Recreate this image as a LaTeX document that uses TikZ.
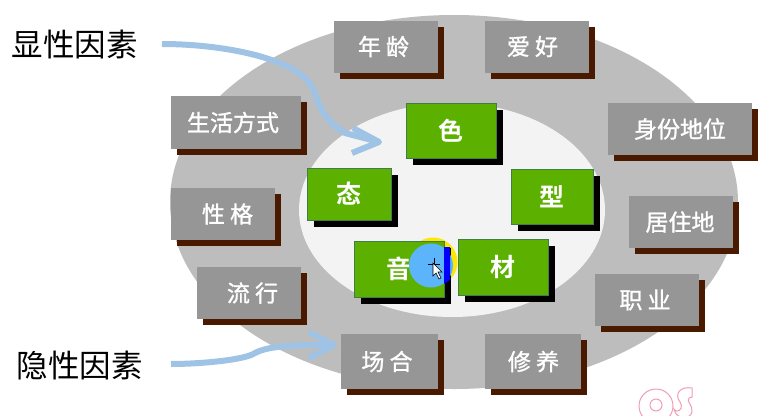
\documentclass[tikz,border=0pt]{standalone}
\usepackage{fontspec}
\setmainfont{Noto Sans CJK SC}[BoldFont={Noto Sans CJK SC Bold}]
\newfontfamily\factorfont{Noto Sans CJK SC}[FakeBold=1.2]
\usetikzlibrary{shadows}
\definecolor{outerc}{HTML}{BDBDBD}
\definecolor{innerc}{HTML}{F3F3F3}
\definecolor{grayc}{HTML}{969696}
\definecolor{brownc}{HTML}{4A1A00}
\definecolor{greenc}{HTML}{5CB100}
\definecolor{arrowc}{HTML}{9FC3E4}
\definecolor{spotblue}{HTML}{5CB4FA}
\definecolor{spotyellow}{HTML}{FFE800}
\definecolor{markpink}{HTML}{F29DB5}
\tikzset{
  factorbox/.style={fill=grayc,text=white,inner sep=0pt,font=\factorfont\fontsize{23}{23}\selectfont,
    general shadow={fill=brownc,shadow xshift=6pt,shadow yshift=-6pt}},
  corebox/.style={fill=greenc,draw=greenc!70!blue,line width=.5pt,text=white,inner sep=0pt,font=\fontsize{25}{25}\selectfont\bfseries,
    general shadow={fill=black,shadow xshift=7pt,shadow yshift=-7pt}},
  sidelabel/.style={inner sep=0pt,text=black,font=\fontsize{31.5}{31.5}\selectfont},
  pointer/.style={draw=arrowc,line width=6pt,line cap=butt,line join=round},
}
\begin{document}
\begin{tikzpicture}[x=1pt,y=-1pt]
\useasboundingbox (0,0) rectangle (767,415);
\clip (0,0) rectangle (767,415);
\fill[white] (0,0) rectangle (767,415);
% ellipses
\fill[outerc] (454,202) ellipse [x radius=284,y radius=187];
\fill[innerc] (452,210) ellipse [x radius=153,y radius=107];
% arrows
\coordinate (a1) at (162,44);
\coordinate (a1tip) at (379,142);
\coordinate (a1u) at (353,128);
\coordinate (a1d) at (352,153);
\coordinate (a2) at (171,364);
\coordinate (a2tip) at (334,345);
\coordinate (a2u) at (309,332);
\coordinate (a2d) at (309,358);
\draw[pointer] (a1) .. controls (215,44) and (280,55) .. (305,78)
  .. controls (322,95) and (312,112) .. (345,133) -- (a1tip);
\draw[pointer] (a1u) -- (a1tip) -- (a1d);
\draw[pointer] (a2) .. controls (200,364) and (245,360) .. (255,353)
  .. controls (270,345) and (300,345) .. (a2tip);
\draw[pointer] (a2u) -- (a2tip) -- (a2d);
% side labels
\node[sidelabel] (visible) at (74.5,44) {显性因素};
\node[sidelabel] (hidden) at (79.5,366) {隐性因素};
% outer factors
\node[factorbox,minimum width=104pt,minimum height=52pt] (age) at (386,46.5) {\kern-5pt 年 龄};
\node[factorbox,minimum width=104pt,minimum height=52pt] (hobby) at (537,46.5) {\kern-9pt 爱 好};
\node[factorbox,minimum width=130pt,minimum height=53pt] (life) at (236,122.5) {\kern-6pt 生活方式};
\node[factorbox,minimum width=144pt,minimum height=52pt] (status) at (680,129) {身份地位};
\node[factorbox,minimum width=104pt,minimum height=52pt] (nature) at (223,214) {\kern9pt 性 格};
\node[factorbox,minimum width=104pt,minimum height=52pt] (home) at (681,222) {\kern-2pt 居住地};
\node[factorbox,minimum width=104pt,minimum height=52pt] (trend) at (249,293) {\kern7pt 流 行};
\node[factorbox,minimum width=104pt,minimum height=52pt] (job) at (647,300) {\kern-4pt 职 业};
\node[factorbox,minimum width=97pt,minimum height=55pt] (place) at (389.5,361.5) {\kern-5pt 场 合};
\node[factorbox,minimum width=96pt,minimum height=55pt] (culture) at (533,361.5) {\kern1pt 修 养};
% yellow spot lies behind the box
\fill[spotyellow] (433,262) circle [radius=24.5];
% core factors
\node[corebox,minimum width=90pt,minimum height=55pt] (colour) at (451,130.5) {色};
\node[corebox,minimum width=84pt,minimum height=52pt] (manner) at (349,194) {态};
\node[corebox,minimum width=82pt,minimum height=55pt] (shape) at (552,196.5) {型};
\node[corebox,minimum width=90pt,minimum height=56pt] (voice) at (399,269) {音};
% pointer spot
\fill[spotblue] (431,265.5) circle [radius=22];
\begin{scope}
  \clip (444,247) rectangle (450,303);
  \fill[blue] (433,262) circle [radius=24.5];
\end{scope}
\node[corebox,minimum width=90pt,minimum height=56pt] (build) at (503,267) {材};
% cursor
\draw[black,line width=1pt] (434,258) -- (434,270) (428,264) -- (440,264);
\draw[black,fill=white,line width=.6pt] (433,263) -- (433,276) -- (436,273) -- (439,279) -- (441,278) -- (438,272) -- (442,272) -- cycle;
% watermark
\draw[markpink,line width=1pt] (656,406) ellipse [x radius=17,y radius=17];
\draw[markpink,line width=1pt] (656,405) circle [radius=6];
\draw[markpink,line width=1pt] (692,388) .. controls (680,386) and (674,394) .. (680,402) .. controls (683,406) and (681,412) .. (676,411) -- (674,409) .. controls (676,420) and (690,420) .. (692,412) .. controls (693,405) and (686,402) .. (689,398) -- (692,397) -- cycle;
\end{tikzpicture}
\end{document}
